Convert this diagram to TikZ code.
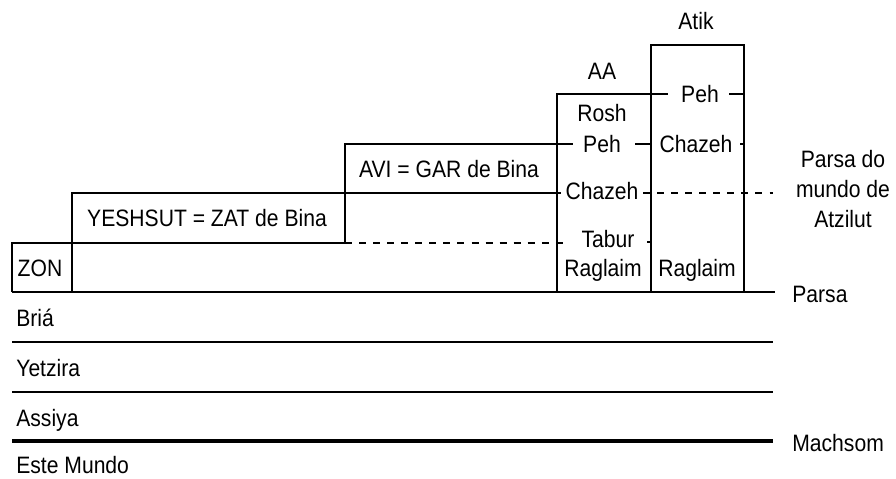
\documentclass[tikz,border=0pt]{standalone}
\usepackage{fontspec}
\setmainfont{Liberation Sans}[FakeStretch=0.89]
\usepackage{tikz}
\usetikzlibrary{positioning}

\begin{document}
\begin{tikzpicture}[x=0.02cm,y=-0.02cm,
		lbl/.style={anchor=base,inner sep=0pt,font=\fontsize{13.5}{17}\selectfont},
		lft/.style={lbl,anchor=base west},
		wall/.style={line width=0.9pt},
		cut/.style={line width=0.9pt,dash pattern=on 4pt off 4pt},
		floor/.style={line width=1.9pt}]
		\useasboundingbox (0,0) rectangle (896,479);
		% worlds below the parsa
		\draw [wall](12,292) -- (775,292);
		\draw [wall](12,342) -- (773,342);
		\draw [wall](12,392) -- (773,392);
		\draw [floor](12,441) -- (773,441);
		% ZON, YESHSUT, AVI
		\draw [wall](12,292) -- (12,243) -- (345,243);
		\draw [wall](72,292) -- (72,193) -- (561,193);
		\draw [wall](345,243) -- (345,144) -- (573,144);
		\draw [cut](345,243) -- (563,243);
		% AA and Atik
		\draw [wall](557,292) -- (557,94) -- (668,94);
		\draw [wall](651,292) -- (651,45) -- (744,45) -- (744,292);
		\draw [wall](729,94) -- (744,94);
		\draw [wall](635,144) -- (651,144);
		\draw [wall](740,144) -- (744,144);
		\draw [wall](647,242) -- (651,242);
		\draw [cut](643,193) -- (773,193);
		\node[lbl] (atik) at (696,30) {Atik};
		\node[lbl] (aa) at (602,80) {AA};
		\node[lbl] (pehatik) at (700,103) {Peh};
		\node[lbl] (rosh) at (602,122) {Rosh};
		\node[lbl] (pehaa) at (602,153) {Peh};
		\node[lbl] (chazehatik) at (696,153) {Chazeh};
		\node[lbl] (avi) at (449,178) {AVI = GAR de Bina};
		\node[lbl] (chazehaa) at (602,200) {Chazeh};
		\node[lbl] (yeshsut) at (207,227) {YESHSUT = ZAT de Bina};
		\node[lbl] (tabur) at (608,248) {Tabur};
		\node[lbl] (zon) at (40,277) {ZON};
		\node[lbl] (raglaimaa) at (603,277) {Raglaim};
		\node[lbl] (raglaimatik) at (697,277) {Raglaim};
		\node[lbl,anchor=center,align=center] (atzilut) at (843,189) {Parsa do\\mundo de\\Atzilut};
		\node[lft] (parsa) at (792,303) {Parsa};
		\node[lft] (bria) at (16,327) {Briá};
		\node[lft] (yetzira) at (16,377) {Yetzira};
		\node[lft] (assiya) at (16,427) {Assiya};
		\node[lft] (machsom) at (792,452) {Machsom};
		\node[lft] (mundo) at (16,474) {Este Mundo};
	\end{tikzpicture}
\end{document}
